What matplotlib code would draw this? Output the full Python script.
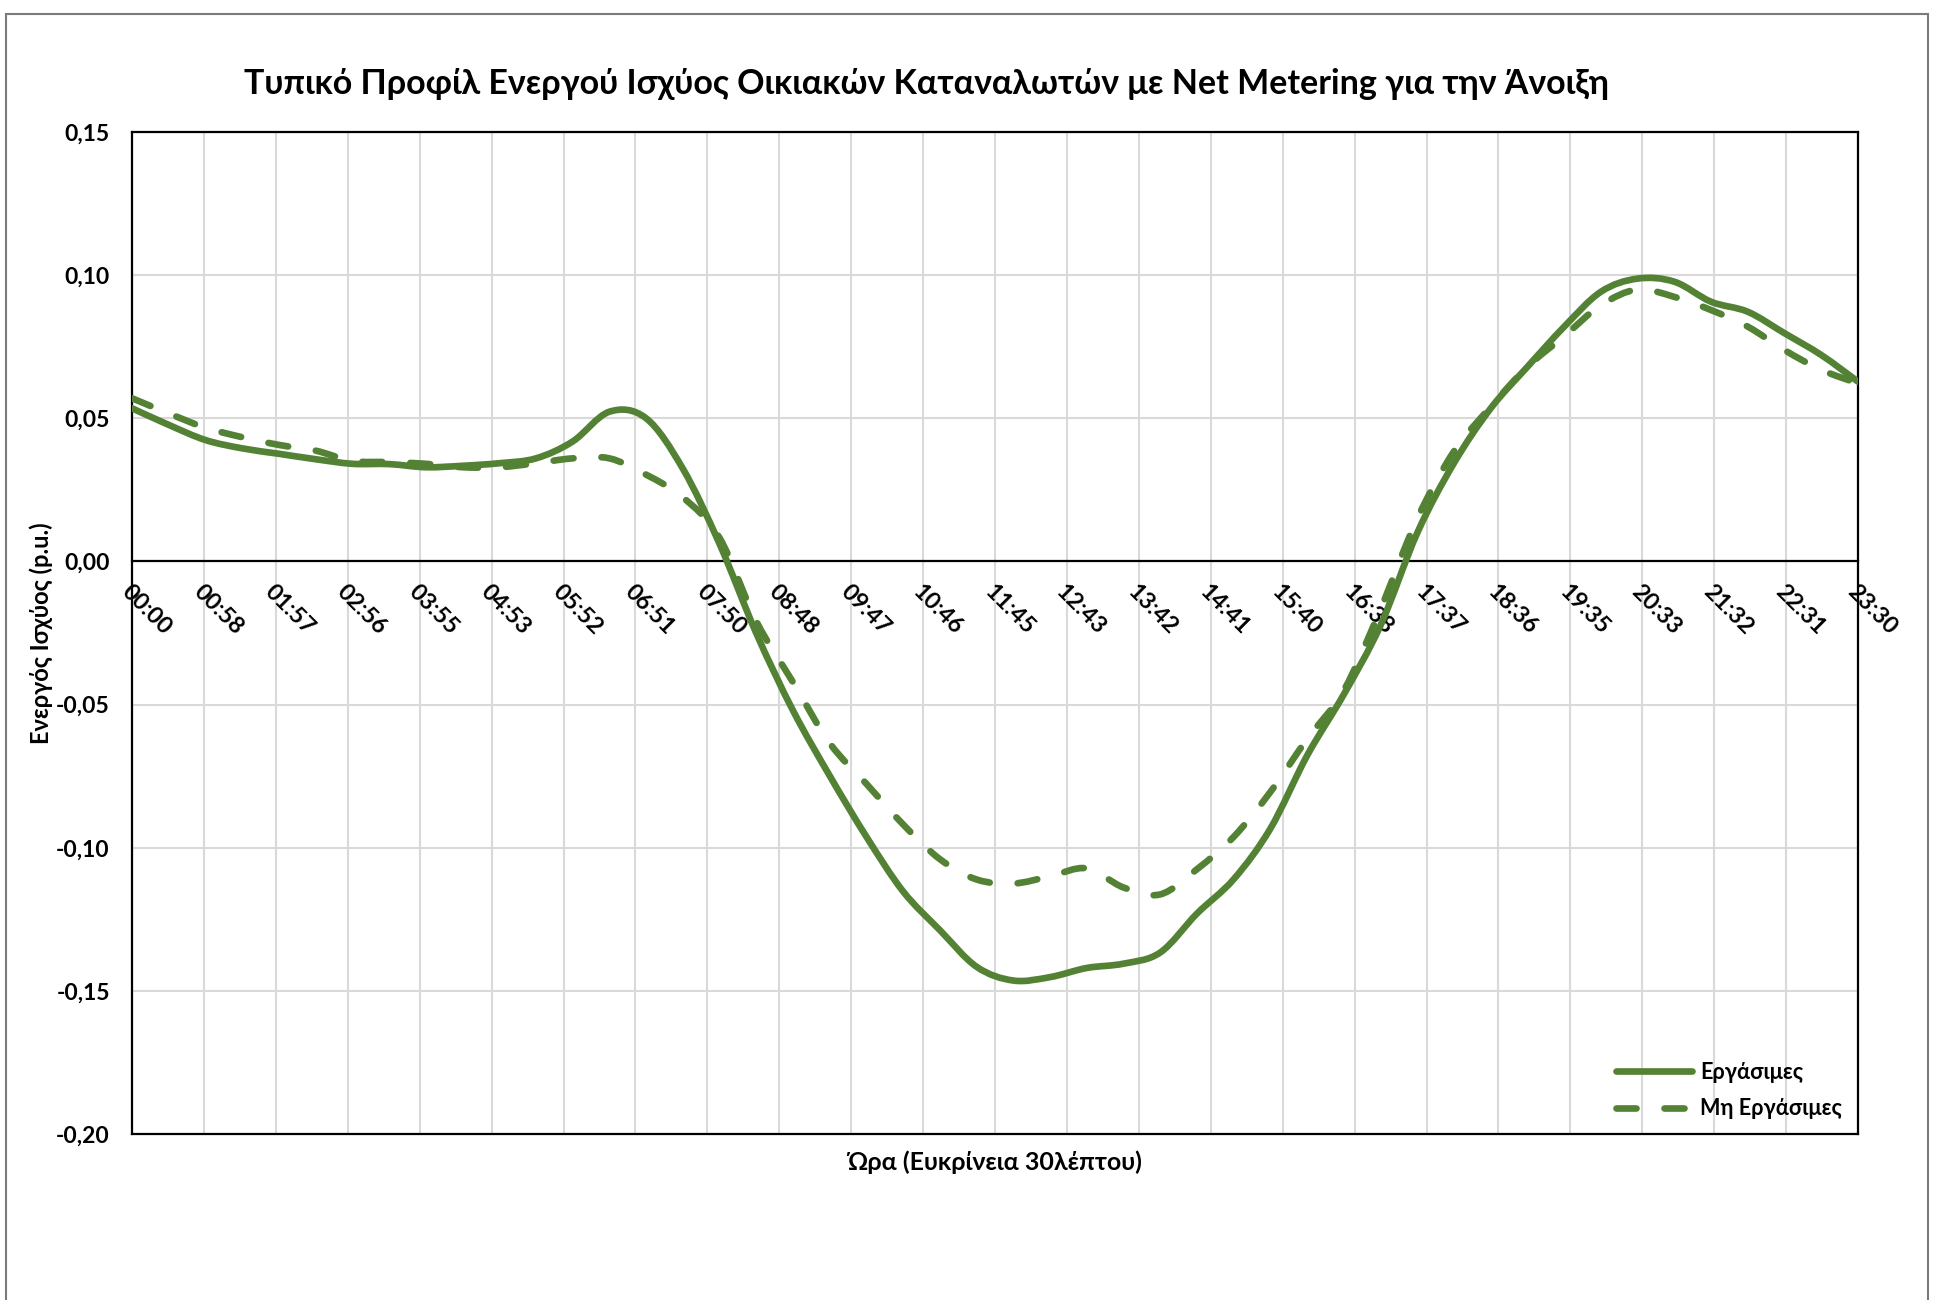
import numpy as np
import matplotlib
matplotlib.use('Agg')
import matplotlib.pyplot as plt
from matplotlib.patches import Rectangle, PathPatch
from matplotlib.path import Path
from matplotlib.lines import Line2D

plt.rcParams['font.family'] = ['Lato', 'DejaVu Sans']
plt.rcParams['font.weight'] = 'bold'

# half hour resolution, 00:00 .. 23:30
hours = np.arange(48) * 0.5

workdays = [0.0535, 0.0477, 0.0424, 0.0395, 0.0376, 0.0357, 0.0341, 0.0340,
            0.0329, 0.0334, 0.0343, 0.0360, 0.0419, 0.0523, 0.0500, 0.0324,
            0.0061, -0.0251, -0.0521, -0.0749, -0.0962, -0.1153, -0.1288, -0.1416,
            -0.1464, -0.1452, -0.1420, -0.1405, -0.1366, -0.1230, -0.1110, -0.0933,
            -0.0678, -0.0464, -0.0223, 0.0100, 0.0344, 0.0535, 0.0680, 0.0820,
            0.0942, 0.0988, 0.0977, 0.0907, 0.0872, 0.0797, 0.0721, 0.0628]

non_workdays = [0.0570, 0.0517, 0.0467, 0.0434, 0.0407, 0.0387, 0.0351, 0.0347,
                0.0341, 0.0329, 0.0329, 0.0343, 0.0360, 0.0360, 0.0303, 0.0224,
                0.0082, -0.0209, -0.0422, -0.0635, -0.0777, -0.0919, -0.1040, -0.1111,
                -0.1125, -0.1100, -0.1072, -0.1139, -0.1163, -0.1075, -0.0962, -0.0805,
                -0.0620, -0.0450, -0.0166, 0.0150, 0.0385, 0.0540, 0.0680, 0.0787,
                0.0895, 0.0950, 0.0924, 0.0878, 0.0820, 0.0738, 0.0669, 0.0622]

xtick_labels = ['00:00', '00:58', '01:57', '02:56', '03:55', '04:53', '05:52',
                '06:51', '07:50', '08:48', '09:47', '10:46', '11:45', '12:43',
                '13:42', '14:41', '15:40', '16:38', '17:37', '18:36', '19:35',
                '20:33', '21:32', '22:31', '23:30']
ytick_vals = [0.15, 0.10, 0.05, 0.0, -0.05, -0.10, -0.15, -0.20]
ytick_labels = ['0,15', '0,10', '0,05', '0,00', '-0,05', '-0,10', '-0,15', '-0,20']

green = '#548235'
LW = 4.8
DASH = (0, (3, 4.2))


def smooth_path(x, y):
    # excel style smoothed line: cubic bezier through every data point
    x = np.asarray(x, float)
    y = np.asarray(y, float)
    n = len(x)
    verts = [(x[0], y[0])]
    codes = [Path.MOVETO]
    for i in range(n - 1):
        i0 = max(i - 1, 0)
        i3 = min(i + 2, n - 1)
        c1 = (x[i] + (x[i + 1] - x[i0]) / 6, y[i] + (y[i + 1] - y[i0]) / 6)
        c2 = (x[i + 1] - (x[i3] - x[i]) / 6, y[i + 1] - (y[i3] - y[i]) / 6)
        verts += [c1, c2, (x[i + 1], y[i + 1])]
        codes += [Path.CURVE4] * 3
    return Path(verts, codes)


fig = plt.figure(figsize=(19.34, 13), dpi=100)
ax = fig.add_axes([132/1934, 1 - 1134/1300, 1726/1934, 1002/1300])

ax.add_patch(PathPatch(smooth_path(hours, workdays), fill=False, edgecolor=green,
                       lw=LW, capstyle='round', joinstyle='round', zorder=3))
ax.add_patch(PathPatch(smooth_path(hours, non_workdays), fill=False, edgecolor=green,
                       lw=LW, linestyle=DASH, capstyle='round', joinstyle='round',
                       zorder=3))

ax.set_xlim(0, 23.5)
ax.set_ylim(-0.20, 0.15)

# x axis crosses at zero, outer frame kept as a box
ax.spines['bottom'].set_position(('data', 0))
for s in ['left', 'right', 'top', 'bottom']:
    ax.spines[s].set_color('black')
    ax.spines[s].set_linewidth(1.6)
ax.plot([0, 1], [0, 0], transform=ax.transAxes, color='black', lw=1.6, clip_on=False)

ax.set_xticks(np.linspace(0, 23.5, 25))
ax.set_xticklabels(xtick_labels, rotation=-45, ha='left', va='top',
                   rotation_mode='anchor', fontsize=16.8)
ax.set_yticks(ytick_vals)
ax.set_yticklabels(ytick_labels, fontsize=16.5)
ax.tick_params(axis='both', length=0)
ax.tick_params(axis='x', pad=14)
ax.tick_params(axis='y', pad=16)

ax.grid(True, color='#d9d9d9', lw=1.5)
ax.set_axisbelow(True)

ax.set_ylabel('Ενεργός Ισχύος (p.u.)', fontsize=17, fontweight='bold')
ax.yaxis.set_label_coords(-0.046, 0.5)
ax.set_xlabel('Ώρα (Ευκρίνεια 30λέπτου)', fontsize=18, fontweight='bold')
ax.xaxis.set_label_coords(0.5, -0.016)
ax.xaxis.label.set_va('top')

fig.text(926/1934, 1 - 84/1300,
         'Τυπικό Προφίλ Ενεργού Ισχύος Οικιακών Καταναλωτών με Net Metering για την Άνοιξη',
         ha='center', va='center', fontsize=24.5, fontweight='bold')

handles = [Line2D([], [], color=green, lw=LW, solid_capstyle='round'),
           Line2D([], [], color=green, lw=LW, linestyle=DASH, dash_capstyle='round')]
ax.legend(handles, ['Εργάσιμες', 'Μη Εργάσιμες'], loc='upper left',
          bbox_to_anchor=(0.860, 0.072), frameon=False, fontsize=15.6,
          handlelength=3.5, handletextpad=0.35, labelspacing=0.72,
          borderpad=0, borderaxespad=0)

fig.patches.append(Rectangle((6/1934, -0.05), 1922/1934, 1 - 14/1300 + 0.05,
                             transform=fig.transFigure, fill=False,
                             edgecolor='#7a7a7a', lw=1.5))

fig.savefig('out.png', dpi=100)
